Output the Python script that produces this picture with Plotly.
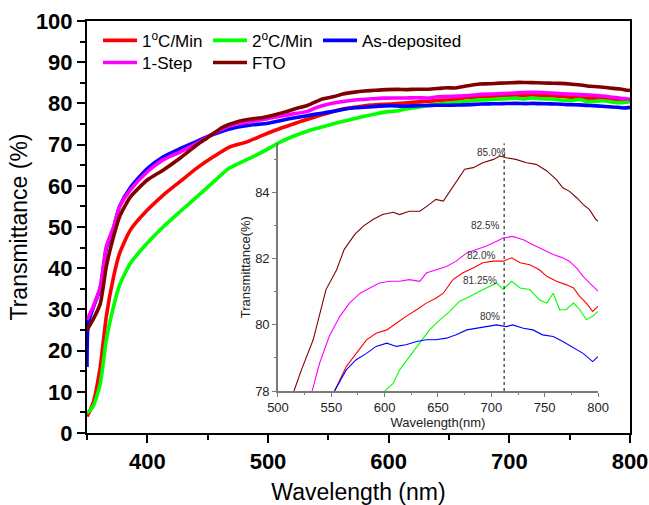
import plotly.graph_objects as go

# ---------------- data ----------------
names = ["1<sup>o</sup>C/Min", "2<sup>o</sup>C/Min", "As-deposited", "1-Step", "FTO"]
colors = ["#FF0000", "#00FF00", "#0000FF", "#FF00FF", "#800000"]

wl_red = [350,355,361,366,372,377,386,400,413,427,441,455,468,482,496,510,520,530,540,553,564,573,583,592,602,611,620,630,639,648,655,664,673,683,692,702,711,719,727,736,745,752,761,770,777,783,789,795,800]
T_red = [4.0,7.2,16.1,28.3,37.9,43.6,49.3,54.1,57.7,61.0,64.3,67.1,69.4,70.6,72.3,73.9,74.9,75.9,76.8,78.0,78.74,79.14,79.55,79.75,79.85,80.05,80.26,80.46,80.66,80.81,80.96,81.37,81.57,81.72,81.88,81.93,81.93,82.03,81.88,81.82,81.67,81.47,81.32,81.22,81.12,80.86,80.66,80.41,80.56]

wl_green = [350,355,361,366,372,377,386,400,413,427,441,455,468,482,496,510,520,530,540,550,560,570,580,590,600,608,614,623,633,642,652,661,670,680,689,698,705,711,719,727,736,745,752,758,764,770,777,783,789,795,800]
T_green = [4.8,6.4,12.0,22.6,30.7,35.9,41.2,46.1,50.0,53.7,57.3,61.0,64.3,66.3,68.3,70.6,71.9,73.0,73.9,74.7,75.5,76.2,76.9,77.5,78.0,78.23,78.64,79.04,79.45,79.85,80.16,80.41,80.71,80.86,81.02,81.17,81.27,81.07,81.32,81.12,81.07,80.76,80.66,80.96,80.46,80.46,80.66,80.46,80.16,80.26,80.41]

wl_blue = [350,351,355,361,366,372,377,386,400,413,427,441,455,468,482,500,510,520,530,540,553,564,573,583,592,602,611,620,630,639,648,658,667,677,686,695,705,714,720,730,739,748,758,767,777,786,795,800]
T_blue = [16.0,26.5,30.3,35.2,44.8,49.8,55.0,59.6,64.2,67.0,69.0,70.8,72.5,73.8,74.6,75.2,75.8,76.4,76.9,77.4,78.0,78.64,78.94,79.14,79.35,79.45,79.35,79.40,79.50,79.55,79.55,79.60,79.70,79.85,79.90,79.95,80.00,79.95,80.00,79.90,79.85,79.70,79.65,79.50,79.30,79.14,78.89,79.04]

wl_mag = [350,355,361,366,372,377,386,400,413,427,441,455,468,482,500,510,520,532,539,548,558,567,577,586,595,605,614,623,633,639,648,658,667,677,686,695,705,711,720,730,739,748,758,767,773,780,786,792,798,800]
T_mag = [27.5,30.6,35.5,45.2,50.0,54.9,59.0,63.4,66.3,68.2,70.3,72.7,74.5,75.4,76.3,76.9,77.4,78.0,78.84,79.65,80.26,80.66,80.96,81.12,81.27,81.32,81.32,81.37,81.32,81.57,81.67,81.77,81.93,82.18,82.28,82.38,82.53,82.63,82.68,82.58,82.43,82.28,82.13,82.03,81.93,81.72,81.47,81.27,81.07,81.02]

wl_fto = [350,355,361,366,372,377,386,400,413,427,441,449,463,474,486,496,505,515,522,533,545,555,562,572,580,589,598,608,614,623,633,642,648,655,661,667,675,683,692,702,708,714,723,733,742,752,761,767,773,780,786,792,798,800]
T_fto = [25.0,27.5,31.4,40.4,47.7,52.5,57.3,61.4,63.8,66.7,69.9,71.5,74.3,75.5,76.2,76.6,77.2,78.0,78.64,79.55,81.07,81.67,82.28,82.74,82.99,83.19,83.34,83.41,83.34,83.44,83.44,83.65,83.8,83.75,84.05,84.35,84.71,84.76,84.91,85.01,85.11,85.06,85.01,84.91,84.86,84.66,84.40,84.15,84.05,83.85,83.65,83.49,83.19,83.14]

series_wl = [wl_red, wl_green, wl_blue, wl_mag, wl_fto]
series_T = [T_red, T_green, T_blue, T_mag, T_fto]

marker_wl = 712
peak_labels = ["85.0%", "82.5%", "82.0%", "81.25%", "80%"]
peak_label_x = [700, 694, 690.5, 689.5, 698.5]
peak_label_y = [85.23, 83.02, 82.10, 81.34, 80.24]

main_xticks = [400, 500, 600, 700, 800]
main_yticks = [0, 10, 20, 30, 40, 50, 60, 70, 80, 90, 100]
inset_xticks = [500, 550, 600, 650, 700, 750, 800]
inset_yticks = [78, 80, 82, 84]

FONT = "Liberation Sans, Arial, sans-serif"

fig = go.Figure()

# main traces
for i in range(5):
    fig.add_trace(go.Scatter(
        x=series_wl[i], y=series_T[i], mode="lines", name=names[i],
        line=dict(color=colors[i], width=3.6, shape="spline", smoothing=0.6),
        xaxis="x", yaxis="y",
        legend="legend" if i < 3 else "legend2",
        legendwidth=130 if i == 2 else 61,
        hoverinfo="skip"))

# inset traces
for i in range(5):
    fig.add_trace(go.Scatter(
        x=series_wl[i], y=series_T[i], mode="lines", showlegend=False,
        line=dict(color=colors[i], width=1.1),
        xaxis="x2", yaxis="y2", hoverinfo="skip"))

# dotted marker line in inset
fig.add_trace(go.Scatter(
    x=[marker_wl, marker_wl], y=[78, 85.5], mode="lines", showlegend=False,
    line=dict(color="black", width=1, dash="dot"),
    xaxis="x2", yaxis="y2", hoverinfo="skip"))

annotations = []
for t, xx, yy in zip(peak_labels, peak_label_x, peak_label_y):
    annotations.append(dict(x=xx, y=yy, xref="x2", yref="y2", text=t,
                            showarrow=False, font=dict(family=FONT, size=10, color="#333333")))

fig.update_layout(
    width=649, height=505,
    margin=dict(l=87, r=19, t=21, b=72),
    paper_bgcolor="white", plot_bgcolor="rgba(0,0,0,0)",
    font=dict(family=FONT, color="black"),
    annotations=annotations,
    xaxis=dict(
        range=[350, 800], tickvals=main_xticks, domain=[0, 1], automargin=False,
        showline=True, linecolor="black", linewidth=2, mirror=True,
        ticks="outside", ticklen=8, tickwidth=2, tickcolor="black",
        minor=dict(dtick=50, tick0=350, ticks="outside", ticklen=5, tickwidth=2, tickcolor="black"),
        showgrid=False, zeroline=False,
        tickfont=dict(family=FONT, size=22, color="black", weight="bold"),
        title=dict(text="Wavelength (nm)", font=dict(family=FONT, size=23, color="black"), standoff=20),
    ),
    yaxis=dict(
        range=[0, 100], tickvals=main_yticks, domain=[0, 1], automargin=False,
        showline=True, linecolor="black", linewidth=2, mirror=True,
        ticks="outside", ticklen=8, tickwidth=2, tickcolor="black",
        minor=dict(dtick=5, tick0=0, ticks="outside", ticklen=5, tickwidth=2, tickcolor="black"),
        showgrid=False, zeroline=False,
        tickfont=dict(family=FONT, size=22, color="black", weight="bold"),
        title=dict(text="Transmittance (%)", font=dict(family=FONT, size=23, color="black"), standoff=2),
    ),
    xaxis2=dict(
        range=[500, 800], tickvals=inset_xticks, domain=[0.3517, 0.9411], anchor="y2", automargin=False,
        showline=True, linecolor="#7a7a7a", linewidth=1.5, mirror=False,
        ticks="outside", ticklen=4, tickwidth=1, tickcolor="#7a7a7a",
        minor=dict(dtick=25, tick0=500, ticks="outside", ticklen=2, tickwidth=1, tickcolor="#7a7a7a"),
        showgrid=False, zeroline=False,
        tickfont=dict(family=FONT, size=13, color="#222222"),
        title=dict(text="Wavelength(nm)", font=dict(family=FONT, size=13, color="#222222"), standoff=0),
    ),
    yaxis2=dict(
        range=[78, 85.5], tickvals=inset_yticks, domain=[0.1019, 0.7034], anchor="x2", automargin=False,
        showline=True, linecolor="#7a7a7a", linewidth=1.5, mirror=False,
        ticks="outside", ticklen=4, tickwidth=1, tickcolor="#7a7a7a",
        minor=dict(dtick=1, tick0=78, ticks="outside", ticklen=2, tickwidth=1, tickcolor="#7a7a7a"),
        showgrid=False, zeroline=False,
        tickfont=dict(family=FONT, size=13, color="#222222"),
        title=dict(text="Transmittance(%)", font=dict(family=FONT, size=13, color="#222222"), standoff=2),
    ),
    legend=dict(
        orientation="h", x=0.0203, xanchor="left", y=0.952, yanchor="middle",
        bgcolor="rgba(0,0,0,0)", borderwidth=0, itemwidth=34,
        entrywidthmode="pixels", tracegroupgap=0,
        font=dict(family=FONT, size=17, color="black"),
    ),
    legend2=dict(
        orientation="h", x=0.0203, xanchor="left", y=0.898, yanchor="middle",
        bgcolor="rgba(0,0,0,0)", borderwidth=0, itemwidth=34,
        entrywidthmode="pixels", tracegroupgap=0,
        font=dict(family=FONT, size=17, color="black"),
    ),
    showlegend=True,
)

fig.write_html("out.html")
